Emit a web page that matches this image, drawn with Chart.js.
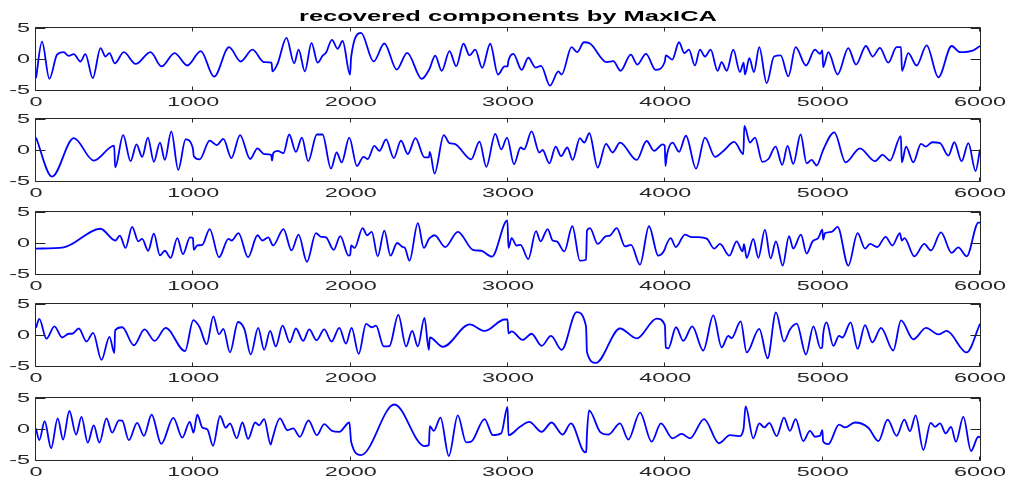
<!DOCTYPE html>
<html>
<head>
<meta charset="utf-8">
<script src="https://cdn.jsdelivr.net/npm/chart.js@4.4.1/dist/chart.umd.min.js"></script>
<style>
  body { margin: 0; background: #fff; width: 1009px; height: 485px; overflow: hidden; position: relative; }
  canvas { position: absolute; left: 0; }
</style>
</head>
<body>
<script>
// Title and tick labels
const TITLE = 'recovered components by MaxICA';
const X_TICKS = [0, 1000, 2000, 3000, 4000, 5000, 6000];
const Y_TICKS = [-5, 0, 5];

// Component 1
const comp1X = [0, 38, 85, 134, 176, 208, 240, 282, 314, 361, 410, 442, 467, 501, 558, 633, 728, 798, 881, 962,
  1047, 1132, 1227, 1301, 1376, 1450, 1497, 1503, 1535, 1592, 1641, 1669, 1709, 1751, 1790, 1822, 1843, 1881, 1917, 1949,
  1996, 2003, 2066, 2146, 2214, 2293, 2359, 2452, 2501, 2537, 2579, 2628, 2671, 2717, 2756, 2792, 2836, 2887, 2936, 2979,
  2997, 3003, 3034, 3087, 3129, 3175, 3210, 3267, 3320, 3341, 3404, 3440, 3483, 3521, 3627, 3669, 3716, 3780, 3822, 3877,
  3938, 3997, 4003, 4044, 4087, 4121, 4150, 4188, 4220, 4252, 4288, 4332, 4358, 4390, 4432, 4474, 4498, 4506, 4534, 4563,
  4597, 4644, 4691, 4733, 4782, 4828, 4894, 4951, 4983, 4998, 5003, 5036, 5095, 5163, 5212, 5275, 5318, 5364, 5417, 5470,
  5498, 5504, 5544, 5597, 5661, 5735, 5820, 5873, 5958, 6000];
const comp1Y = [-3.1, 2.8, -3.2, 0.7, 1.1, 0.5, 0.8, -0.4, 0.8, -3.1, 1.75, 0.4, 0.95, -0.7, 1.1, -0.8, 1.1, -1.2, 0.95, -1.05,
  1.27, -2.85, 1.9, -0.4, 1.5, -0.5, -0.6, -2.0, -0.8, 3.4, -0.7, 1.5, -2.0, 2.6, -0.6, 0.55, 1.0, 3.1, 1.65, 2.9,
  -2.5, 0.3, 4.2, -0.4, 2.5, -1.7, 1.0, -3.2, -1.6, 0.55, -1.9, 1.27, -1.16, 2.46, 0.57, 1.5, -1.43, 2.46, -2.5, -1.2,
  -1.2, -0.25, 0.84, -1.76, 0.2, -1.4, -1.1, -4.3, -2.0, -2.5, 1.9, 1.1, 2.7, 2.5, -0.5, -0.35, -1.9, 0.7, -0.9, 0.84,
  -1.76, -0.4, 0.6, -0.1, 2.7, 0.95, 1.5, -1.05, 1.5, 0.4, 1.5, -1.9, -0.5, -1.9, 1.5, -2.1, -0.6, -2.5, 0.14, -2.1,
  1.9, -3.9, 0.4, 0.57, -2.8, 1.9, -1.05, 1.5, 0.84, 1.4, -1.3, 1.1, -2.5, 1.75, -0.9, 2.1, 0.4, 1.8, -0.6, 1.9,
  1.9, -1.9, 0.95, -1.05, 2.2, -2.95, 2.1, 1.1, 1.4, 2.1];

// Component 2
const comp2X = [0, 102, 240, 367, 497, 503, 554, 601, 639, 675, 711, 749, 788, 819, 860, 904, 951, 997, 1003, 1040,
  1104, 1149, 1191, 1242, 1297, 1361, 1408, 1450, 1495, 1500, 1508, 1535, 1573, 1609, 1652, 1690, 1730, 1785, 1821, 1875,
  1911, 1943, 1991, 2040, 2081, 2108, 2151, 2183, 2225, 2274, 2320, 2363, 2412, 2469, 2497, 2503, 2533, 2592, 2628, 2660,
  2766, 2819, 2862, 2919, 2957, 2994, 3038, 3080, 3102, 3150, 3199, 3220, 3263, 3303, 3337, 3377, 3411, 3457, 3485, 3517,
  3570, 3623, 3665, 3712, 3818, 3881, 3928, 3983, 3996, 4001, 4010, 4046, 4087, 4131, 4195, 4252, 4316, 4369, 4438, 4496,
  4502, 4538, 4570, 4616, 4655, 4701, 4743, 4777, 4813, 4860, 4898, 4930, 4962, 4997, 5003, 5074, 5146, 5237, 5332, 5381,
  5428, 5497, 5503, 5530, 5576, 5625, 5655, 5697, 5746, 5799, 5837, 5883, 5926, 5972, 6000];
const comp2Y = [2.0, -4.3, 1.9, -1.7, 0.7, -2.8, 2.4, -1.8, 0.9, -1.1, 2.0, -1.9, 1.2, -1.6, 3.0, -3.2, 1.7, 0.3, -1.0, -1.5,
  1.5, 0.8, 1.8, -1.3, 2.4, -1.45, 0.27, -0.65, -0.8, -1.7, -0.5, -0.15, -0.5, 2.5, -0.3, 2.0, -1.8, 2.5, 2.5, -3.0,
  -0.4, -2.0, 2.0, -2.6, -1.1, -1.45, 0.65, -0.15, 1.7, -1.3, 1.5, -0.65, 1.9, -1.2, -1.2, -0.3, -3.8, 2.4, 1.1, 1.0,
  -1.5, 1.35, -2.7, 2.6, 0.1, 2.0, -2.3, 0.4, 0.1, 3.0, -0.4, 0.0, -2.15, 0.55, -1.0, 0.4, -1.6, 1.9, 1.2, 2.7,
  -2.85, 1.0, -0.4, 1.2, -1.6, 1.45, -0.15, 0.9, 0.7, -2.6, -0.8, 1.2, -0.3, 2.3, -3.0, 2.0, -1.1, -0.15, 1.3, -0.65,
  3.9, 1.2, 2.0, -1.9, -1.45, 0.55, -2.4, 0.65, -2.25, 2.5, -2.15, -1.6, -2.5, -0.4, 0.0, 2.85, -2.0, 0.27, -1.8, -0.8,
  -1.7, 2.25, -2.0, 0.55, -2.0, 1.0, 0.55, 1.25, 1.1, -0.9, 1.25, -1.8, 1.1, -3.4, 0.1];

// Component 3
const comp3X = [0, 176, 410, 505, 533, 569, 611, 650, 675, 713, 749, 788, 819, 856, 898, 934, 979, 997, 1003, 1025,
  1057, 1104, 1163, 1223, 1244, 1287, 1348, 1408, 1439, 1476, 1507, 1573, 1624, 1669, 1722, 1779, 1811, 1843, 1892, 1934,
  1987, 1997, 2003, 2025, 2076, 2104, 2134, 2172, 2214, 2253, 2295, 2331, 2345, 2374, 2427, 2465, 2497, 2503, 2533, 2601,
  2681, 2777, 2830, 2898, 2996, 3003, 3023, 3055, 3080, 3129, 3178, 3207, 3252, 3284, 3310, 3358, 3409, 3457, 3496, 3502,
  3521, 3570, 3623, 3648, 3691, 3744, 3782, 3839, 3896, 3955, 3997, 4003, 4034, 4066, 4125, 4160, 4200, 4263, 4311, 4347,
  4407, 4453, 4491, 4500, 4517, 4559, 4591, 4633, 4669, 4703, 4746, 4786, 4813, 4862, 4898, 4936, 4972, 4998, 5003, 5015,
  5057, 5095, 5163, 5222, 5269, 5301, 5347, 5400, 5443, 5491, 5503, 5520, 5583, 5646, 5688, 5752, 5820, 5862, 5915, 5990,
  6000];
const comp3Y = [-0.9, -0.7, 2.3, 0.4, 1.2, -0.8, 2.6, 0.27, 0.65, -1.25, 1.5, -2.0, -1.25, -2.4, 0.8, -1.8, 0.9, 0.8, -1.1, -0.4,
  -0.3, 2.25, -2.3, 0.65, 0.4, 1.6, -2.3, 1.25, 0.4, 0.9, -0.4, 2.25, -1.2, 1.35, -3.05, 1.6, 1.0, 0.9, -1.1, 1.1,
  -2.05, -1.9, -0.4, -0.8, 2.4, 1.25, 1.8, -2.15, 2.0, -2.05, 0.0, -0.65, -0.8, -2.85, 3.2, -0.8, 0.65, 0.8, 1.25, -0.65,
  1.8, -1.1, -1.25, -2.2, 3.65, -0.8, 0.8, -0.4, -0.3, -2.6, 1.9, 0.27, 2.25, 0.4, 0.27, -1.35, 2.7, -2.85, -2.7, 2.0,
  2.4, -0.15, 1.1, 1.2, 2.4, -0.55, -0.3, -3.5, 2.7, -2.05, -1.0, -0.5, 0.8, -0.65, 1.35, 1.0, 0.95, 0.7, -0.9, -0.15,
  -2.05, 0.27, -1.35, -0.2, -2.4, 0.65, -2.4, 2.15, -2.5, 0.27, -3.65, 1.1, -0.9, 1.35, -1.7, 0.27, 0.8, 2.15, 0.55, 1.6,
  1.8, 2.6, -3.65, 1.6, -0.9, -0.15, -0.65, 1.0, -0.4, 1.6, 0.4, 0.8, -2.15, -0.15, -1.2, 1.7, -1.6, -0.7, -2.15, 3.3,
  3.3];

// Component 4
const comp4X = [0, 21, 66, 117, 166, 208, 230, 272, 321, 363, 416, 467, 498, 503, 548, 622, 690, 754, 824, 947,
  1000, 1040, 1085, 1127, 1163, 1191, 1233, 1284, 1325, 1365, 1412, 1450, 1488, 1524, 1567, 1613, 1652, 1698, 1737, 1783,
  1832, 1879, 1928, 1970, 2006, 2051, 2098, 2134, 2161, 2210, 2246, 2303, 2352, 2391, 2427, 2469, 2497, 2503, 2586, 2756,
  2851, 2979, 2997, 3003, 3023, 3093, 3150, 3214, 3273, 3341, 3436, 3496, 3502, 3559, 3712, 3818, 3945, 3997, 4003, 4019,
  4068, 4114, 4171, 4241, 4305, 4358, 4400, 4421, 4479, 4517, 4597, 4650, 4703, 4754, 4792, 4835, 4894, 4941, 4987, 4997,
  5003, 5025, 5068, 5104, 5126, 5178, 5222, 5269, 5316, 5371, 5449, 5498, 5576, 5657, 5735, 5788, 5915, 6000];
const comp4Y = [1.15, 2.6, -0.6, 1.4, -0.4, 0.2, 0.2, 1.05, -1.05, 0.35, -4.0, -0.3, -2.9, 0.75, 1.25, -1.65, 0.9, -0.95, 1.15, -2.6,
  2.4, 1.25, -1.5, 3.0, 0.1, 1.0, -2.8, 2.1, 0.9, -3.15, 1.15, -2.4, 0.65, -1.85, 1.5, -1.2, 1.05, -0.95, 0.9, -0.85,
  0.9, -1.05, 1.15, -1.4, 1.15, -3.05, 1.8, 1.25, 1.5, -1.85, -1.8, 3.25, -1.85, 0.65, -1.85, 2.75, -2.4, -0.4, -1.9, 1.7,
  0.65, 2.5, 2.5, 0.25, 0.6, -0.8, 0.2, -1.75, -0.15, -2.4, 3.7, 1.4, -2.8, -4.5, 1.05, -0.55, 2.65, 1.6, -2.0, -2.15,
  1.25, -0.95, 1.4, -2.5, 3.15, -2.0, -0.15, -0.5, 2.2, -2.8, 1.0, -3.75, 3.65, -1.05, 0.9, 1.85, -3.15, 1.4, -2.15, -2.0,
  0.1, 2.05, -1.75, -0.15, -0.4, 2.05, -2.25, 1.6, -1.2, 1.15, -2.5, 2.35, -0.7, 1.15, 0.1, 0.65, -2.8, 1.8];

// Component 5
const comp5X = [0, 21, 55, 96, 138, 172, 212, 255, 289, 329, 367, 403, 448, 484, 527, 548, 590, 643, 686, 735,
  796, 873, 930, 977, 995, 1001, 1025, 1057, 1090, 1125, 1170, 1206, 1233, 1276, 1312, 1348, 1393, 1418, 1450, 1492,
  1500, 1550, 1599, 1635, 1677, 1732, 1785, 1832, 1881, 1928, 1992, 2003, 2066, 2278, 2469, 2497, 2503, 2528, 2571, 2624,
  2681, 2734, 2766, 2851, 2904, 2957, 2997, 3003, 3076, 3135, 3214, 3277, 3347, 3400, 3489, 3497, 3502, 3515, 3585, 3638,
  3712, 3765, 3839, 3913, 3972, 4046, 4104, 4157, 4246, 4341, 4411, 4470, 4497, 4510, 4559, 4597, 4629, 4661, 4708, 4754,
  4792, 4828, 4877, 4919, 4951, 4983, 4998, 5003, 5036, 5104, 5142, 5205, 5290, 5354, 5413, 5470, 5519, 5555, 5591, 5640,
  5686, 5714, 5746, 5782, 5816, 5847, 5894, 5943, 5989, 6000];
const comp5Y = [0.1, -1.8, 1.25, -3.1, 1.7, -1.7, 2.9, -0.9, 1.95, -2.2, 0.6, -2.2, 1.7, -0.6, 1.4, 1.35, -1.8, 1.0, -1.1, 2.3,
  -2.4, 1.8, -1.4, 1.15, -0.2, -0.6, 2.3, 0.25, -0.1, -2.7, 2.1, 0.2, 0.9, -1.5, 1.05, -1.6, 1.05, 0.6, 1.6, -2.5,
  -1.8, 1.7, -0.2, 0.1, -1.25, 1.4, -1.0, 0.8, -0.3, -0.45, 1.05, -2.05, -4.2, 3.95, -2.75, -2.6, 0.45, -0.3, 1.85, -4.35,
  2.2, -2.15, -2.05, 1.6, -1.0, -0.7, 3.55, -1.0, 0.35, 1.15, -0.45, 1.05, -0.9, 0.9, -3.75, -3.7, -0.7, 3.0, -0.45, -0.9,
  0.9, -1.7, 2.65, -2.05, 0.9, -1.5, -0.8, -1.5, 1.6, -2.3, -1.0, -1.15, 0.0, 3.65, -1.5, 0.9, 0.25, 1.0, -1.15, 1.85,
  -0.3, 1.6, -1.95, -0.3, -1.25, -1.1, -0.2, -2.0, -2.45, 0.7, 0.25, 1.05, 0.2, -1.95, 1.5, -1.1, 1.5, -0.35, 2.2, -3.4,
  1.0, 0.35, 0.9, -0.7, 0.35, -2.05, 1.95, -3.55, -1.25, -1.35];

const components = [[comp1X, comp1Y], [comp2X, comp2Y], [comp3X, comp3Y], [comp4X, comp4Y], [comp5X, comp5Y]];

// layout (pixels)
const PANEL_TOP = [28, 119, 212, 304, 398];
const AREA_H = 62;
const PAD_LEFT = 36, PAD_RIGHT = 29, PAD_BOTTOM = 25;
const AXIS_COLOR = '#262626';
const LABEL_FONT = '13px "Liberation Sans", Arial, sans-serif';
const TITLE_FONT = 'bold 15px "Liberation Sans", Arial, sans-serif';

// the picture is stretched sideways, so text is too
function stretchedText(ctx, text, x, y, align, baseline, font, sx, color) {
    ctx.save();
    ctx.font = font;
    ctx.fillStyle = color;
    ctx.textAlign = align;
    ctx.textBaseline = baseline;
    ctx.translate(x, y);
    ctx.scale(sx, 1);
    ctx.fillText(text, 0, 0);
    ctx.restore();
}

// MATLAB style box with inward ticks
const framePlugin = {
    id: 'frame',
    afterDatasetsDraw(chart, args, opts) {
        const { ctx, chartArea: a, scales: { x, y } } = chart;
        const L = a.left - 0.5, R = a.right + 0.5, T = a.top - 0.5, B = a.bottom + 0.5;
        ctx.save();
        ctx.strokeStyle = AXIS_COLOR;
        ctx.lineWidth = 1;
        ctx.beginPath();
        ctx.rect(L, T, R - L, B - T);
        X_TICKS.forEach(v => {
            const px = Math.round(x.getPixelForValue(v)) - 0.5;
            ctx.moveTo(px, B); ctx.lineTo(px, B - 4);
            ctx.moveTo(px, T); ctx.lineTo(px, T + 4);
        });
        Y_TICKS.forEach(v => {
            const py = Math.round(y.getPixelForValue(v)) + 0.5;
            ctx.moveTo(L, py); ctx.lineTo(L + 10, py);
            ctx.moveTo(R, py); ctx.lineTo(R - 10, py);
        });
        ctx.stroke();
        ctx.restore();

        X_TICKS.forEach(v => {
            stretchedText(ctx, String(v), x.getPixelForValue(v), a.bottom + 16, 'center', 'alphabetic', LABEL_FONT, 1.8, AXIS_COLOR);
        });
        Y_TICKS.forEach(v => {
            stretchedText(ctx, String(v), a.left - 6, y.getPixelForValue(v) + 0.5, 'right', 'middle', LABEL_FONT, 1.8, AXIS_COLOR);
        });
        if (opts.title) {
            stretchedText(ctx, opts.title, (a.left + a.right) / 2, a.top - 7, 'center', 'alphabetic', TITLE_FONT, 1.7, '#000');
        }
    }
};

components.forEach(([xs, ys], i) => {
    const padTop = i === 0 ? PANEL_TOP[0] : 12;
    const canvas = document.createElement('canvas');
    canvas.width = 1009;
    canvas.height = padTop + AREA_H + PAD_BOTTOM;
    canvas.style.top = (PANEL_TOP[i] - padTop) + 'px';
    document.body.appendChild(canvas);

    new Chart(canvas, {
        type: 'line',
        data: {
            datasets: [{
                data: xs.map((v, k) => ({ x: v, y: ys[k] })),
                borderColor: '#0000ff',
                borderWidth: 1.8,
                pointRadius: 0,
                fill: false,
                cubicInterpolationMode: 'monotone'
            }]
        },
        options: {
            responsive: false,
            animation: false,
            devicePixelRatio: 1,
            layout: { padding: { left: PAD_LEFT, right: PAD_RIGHT, top: padTop, bottom: PAD_BOTTOM } },
            plugins: {
                legend: { display: false },
                tooltip: { enabled: false },
                frame: { title: i === 0 ? TITLE : null }
            },
            scales: {
                x: { type: 'linear', min: 0, max: 6000, display: false },
                y: { min: -5, max: 5, display: false }
            }
        },
        plugins: [framePlugin]
    });
});
</script>
</body>
</html>
